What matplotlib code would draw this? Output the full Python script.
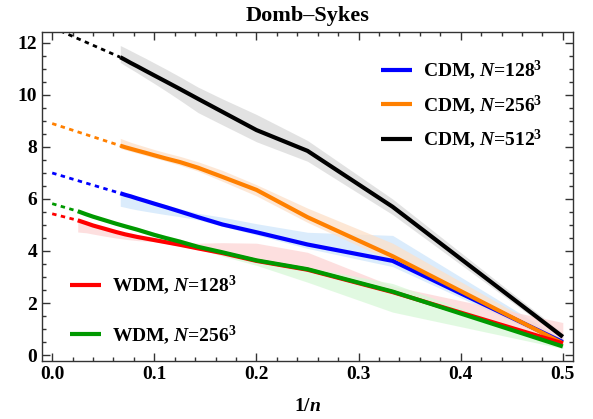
import numpy as np
import matplotlib
matplotlib.use('Agg')
import matplotlib.pyplot as plt
from matplotlib.ticker import MultipleLocator, FormatStrFormatter

plt.rcParams['font.family'] = 'Liberation Serif'
plt.rcParams['font.weight'] = 'bold'
plt.rcParams['mathtext.fontset'] = 'custom'
plt.rcParams['mathtext.rm'] = 'Liberation Serif:bold'
plt.rcParams['mathtext.it'] = 'Liberation Serif:bold:italic'
plt.rcParams['mathtext.bf'] = 'Liberation Serif:bold'

# CDM runs: points at 1/n for n = 15 ... 2
n_cdm = [15, 14, 13, 12, 11, 10, 9, 8, 7, 6, 5, 4, 3, 2]
cdm128 = [6.22, 6.16, 6.1, 6.02, 5.93, 5.82, 5.69, 5.52, 5.3, 5.02, 4.72, 4.25, 3.62, 0.5]
cdm128_hi = [6.25, 6.2, 6.15, 6.08, 6.0, 5.9, 5.78, 5.63, 5.45, 5.3, 5.05, 4.72, 4.6, 0.6]
cdm128_lo = [5.72, 5.68, 5.63, 5.58, 5.53, 5.47, 5.4, 5.32, 5.2, 4.95, 4.62, 4.1, 3.4, 0.4]
cdm256 = [8.05, 7.99, 7.93, 7.86, 7.78, 7.68, 7.56, 7.42, 7.2, 6.85, 6.35, 5.3, 3.8, 0.45]
cdm256_hi = [8.33, 8.26, 8.18, 8.1, 8.01, 7.9, 7.78, 7.64, 7.43, 7.1, 6.55, 5.65, 4.3, 0.6]
cdm256_lo = [7.95, 7.89, 7.83, 7.76, 7.68, 7.58, 7.46, 7.3, 7.07, 6.68, 6.12, 5.1, 3.6, 0.35]
cdm512 = [11.45, 11.35, 11.23, 11.1, 10.94, 10.75, 10.52, 10.23, 9.85, 9.35, 8.65, 7.85, 5.7, 0.7]
cdm512_hi = [11.9, 11.81, 11.7, 11.57, 11.42, 11.23, 11.0, 10.7, 10.3, 9.85, 9.25, 8.25, 6.0, 0.85]
cdm512_lo = [11.25, 11.13, 11.0, 10.85, 10.66, 10.44, 10.16, 9.8, 9.32, 8.85, 8.2, 7.45, 5.4, 0.6]

# WDM runs: points at 1/n for n = 40 ... 2
n_wdm = [40, 30, 25, 20, 16, 14, 12, 10, 9, 8, 7, 6, 5, 4, 3, 2]
wdm128 = [5.18, 5.07, 4.98, 4.87, 4.73, 4.64, 4.54, 4.42, 4.34, 4.24, 4.1, 3.92, 3.62, 3.28, 2.42, 0.45]
wdm128_hi = [5.21, 5.1, 5.01, 4.9, 4.77, 4.69, 4.6, 4.5, 4.45, 4.38, 4.3, 4.32, 4.3, 3.95, 2.65, 1.25]
wdm128_lo = [4.73, 4.7, 4.65, 4.58, 4.5, 4.45, 4.4, 4.36, 4.29, 4.19, 4.05, 3.87, 3.57, 3.23, 2.37, 0.4]
wdm256 = [5.53, 5.41, 5.32, 5.2, 5.05, 4.95, 4.82, 4.62, 4.5, 4.36, 4.16, 3.95, 3.64, 3.3, 2.44, 0.33]
wdm256_hi = [5.57, 5.45, 5.36, 5.25, 5.1, 5.0, 4.9, 4.72, 4.6, 4.46, 4.24, 4.0, 3.69, 3.38, 2.75, 0.38]
wdm256_lo = [5.48, 5.36, 5.27, 5.15, 5.0, 4.9, 4.77, 4.57, 4.45, 4.31, 4.1, 3.8, 3.45, 2.8, 1.65, 0.25]

# extrapolated values at 1/n -> 0
intercepts = {'cdm128': 7.0, 'cdm256': 8.9, 'cdm512': 12.6, 'wdm128': 5.43, 'wdm256': 5.82}

series = [
    ('cdm128', n_cdm, cdm128, cdm128_lo, cdm128_hi, '#0000ff', '#cfe6fb', r'CDM, $N$=128$^3$'),
    ('cdm256', n_cdm, cdm256, cdm256_lo, cdm256_hi, '#ff8000', '#fde0c8', r'CDM, $N$=256$^3$'),
    ('cdm512', n_cdm, cdm512, cdm512_lo, cdm512_hi, '#000000', '#d9d9d9', r'CDM, $N$=512$^3$'),
    ('wdm128', n_wdm, wdm128, wdm128_lo, wdm128_hi, '#ff0000', '#fdd5d5', r'WDM, $N$=128$^3$'),
    ('wdm256', n_wdm, wdm256, wdm256_lo, wdm256_hi, '#009900', '#d8f8d8', r'WDM, $N$=256$^3$'),
]

fig = plt.figure(figsize=(5.93, 4.19), dpi=100)
ax = fig.add_axes([0.0708, 0.1384, 0.8955, 0.7852])

handles = {}
for key, n, y, lo, hi, col, band, lab in series:
    x = 1.0 / np.array(n, dtype=float)
    ax.fill_between(x, lo, hi, color=band, alpha=0.75, lw=0, zorder=1)
for key, n, y, lo, hi, col, band, lab in series:
    x = 1.0 / np.array(n, dtype=float)
    ax.plot([0.0, x[0]], [intercepts[key], y[0]], color=col, lw=2.0,
            dashes=(1.6, 1.6), zorder=2)
    h, = ax.plot(x, y, color=col, lw=3.0, solid_capstyle='butt', zorder=3, label=lab)
    handles[key] = h

ax.set_xlim(-0.01, 0.51)
ax.set_ylim(-0.23, 12.42)
ax.xaxis.set_major_locator(MultipleLocator(0.1))
ax.xaxis.set_minor_locator(MultipleLocator(0.02))
ax.yaxis.set_major_locator(MultipleLocator(2))
ax.yaxis.set_minor_locator(MultipleLocator(0.5))
ax.xaxis.set_major_formatter(FormatStrFormatter('%.1f'))
ax.tick_params(which='both', direction='in', top=True, right=True, colors='#333333',
               labelcolor='black', labelsize=14, width=1.0)
ax.tick_params(which='major', length=6)
ax.tick_params(which='minor', length=3)
for lbl in ax.get_xticklabels() + ax.get_yticklabels():
    lbl.set_fontweight('bold')
for s in ax.spines.values():
    s.set_color('#333333')
    s.set_linewidth(1.0)

ax.set_title('Domb\u2013Sykes', fontsize=16, fontweight='bold', pad=8)
ax.set_xlabel(r'1/$n$', fontsize=14, fontweight='bold', labelpad=11)

leg1 = ax.legend([handles['cdm128'], handles['cdm256'], handles['cdm512']],
                 [s[7] for s in series[:3]], loc='upper right', frameon=False,
                 prop={'size': 14, 'weight': 'bold'}, handlelength=1.6,
                 labelspacing=0.55, bbox_to_anchor=(0.976, 0.972), handletextpad=0.57)
ax.add_artist(leg1)
ax.legend([handles['wdm128'], handles['wdm256']], [s[7] for s in series[3:]],
          loc='lower left', frameon=False, prop={'size': 14, 'weight': 'bold'},
          handlelength=1.6, labelspacing=1.32, bbox_to_anchor=(0.02, -0.01),
          handletextpad=0.57)

fig.savefig('out.png', dpi=100)
